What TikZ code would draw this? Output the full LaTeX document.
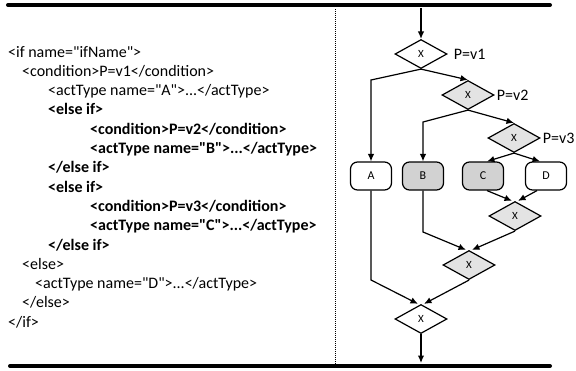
\documentclass[tikz,border=0pt]{standalone}
\usepackage{fontspec}
\setmainfont{Carlito}[Ligatures=TeXOff]
\usetikzlibrary{shapes.geometric,arrows.meta}
\begin{document}
\begin{tikzpicture}[x=1pt,y=-1pt,
  code/.style={anchor=base west,inner sep=0pt,font=\fontsize{16}{19}\selectfont},
  bcode/.style={anchor=base west,inner sep=0pt,font=\fontsize{16}{19}\selectfont\bfseries},
  gate/.style={diamond,draw,line width=1.2pt,minimum width=52pt,minimum height=29pt,inner sep=0pt,font=\fontsize{11}{13}\selectfont,fill=white},
  ggate/.style={gate,fill=gray!22},
  act/.style={rectangle,rounded corners=7pt,draw,line width=1.2pt,minimum width=41pt,minimum height=28pt,inner sep=0pt,font=\fontsize{12}{14}\selectfont,fill=white},
  gact/.style={act,fill=gray!35},
  flow/.style={line width=1.2pt,-{Latex[length=7.5pt,width=6.5pt]}},
  lbl/.style={anchor=west,inner sep=0pt,font=\fontsize{16}{19}\selectfont},
  thickrule/.style={line width=4pt,line cap=round},
  sep/.style={line width=0.9pt,dash pattern=on 1pt off 1pt}]
\useasboundingbox (0,0) rectangle (576,370);

% frame lines
\draw[thickrule] (8,5) -- (550,5);
\draw[thickrule] (10,366) -- (550,366);
\draw[sep] (335,9) -- (335,364);

% code listing
\node[code]  (l0)  at (8,57)     {<if name="ifName">};
\node[code]  (l1)  at (22,76.3)  {<condition>P=v1</condition>};
\node[code]  (l2)  at (48,95.6)  {<actType name="A">...</actType>};
\node[bcode] (l3)  at (48,114.9) {<else if>};
\node[bcode] (l4)  at (90,134.2) {<condition>P=v2</condition>};
\node[bcode] (l5)  at (90,153.5) {<actType name="B">...</actType>};
\node[bcode] (l6)  at (48,172.8) {</else if>};
\node[bcode] (l7)  at (48,192.1) {<else if>};
\node[bcode] (l8)  at (90,211.4) {<condition>P=v3</condition>};
\node[bcode] (l9)  at (90,230.7) {<actType name="C">...</actType>};
\node[bcode] (l10) at (48,250.0) {</else if>};
\node[code]  (l11) at (22,269.3) {<else>};
\node[code]  (l12) at (35,288.6) {<actType name="D">...</actType>};
\node[code]  (l13) at (22,307.9) {</else>};
\node[code]  (l14) at (8,327.2)  {</if>};

% flow diagram
\node[gate]  (D1) at (421,54)  {X};
\node[ggate] (D2) at (468,95)  {X};
\node[ggate] (D3) at (514,138) {X};
\node[lbl] (p1) at ([xshift=6pt]D1.east) {P=v1};
\node[lbl] (p2) at ([xshift=2pt]D2.east) {P=v2};
\node[lbl] (p3) at ([xshift=2pt]D3.east) {P=v3};

\node[act]  (A) at (371,176) {A};
\node[gact] (B) at (423,176) {B};
\node[gact] (C) at (483,176) {C};
\node[act]  (D) at (546,176) {D};

\node[ggate] (M3) at (515,216) {X};
\node[ggate] (M2) at (469,265) {X};
\node[gate]  (M1) at (421,319) {X};

\coordinate (top) at (421,8);
\coordinate (bot) at (421,363);

\draw[flow] (top) -- (D1.north);
\draw[flow] (D1.south) -- (A.north |- {(0,80)}) -- (A.north);
\draw[flow] (D1.south) -- (D2.north);
\draw[flow] (D2.south) -- (B.north |- {(0,122)}) -- (B.north);
\draw[flow] (D2.south) -- (D3.north);
\draw[flow] (D3.south) -- ([xshift=4pt]C.north);
\draw[flow] (D3.south) -- ([xshift=-6pt]D.north);
\draw[flow] ([xshift=4pt]C.south) -- ([xshift=-3pt]M3.north);
\draw[flow] ([xshift=-9pt]D.south) -- ([xshift=3pt]M3.north);
\draw[flow] (B.south) -- (B.south |- {(0,232)}) -- ([xshift=-3pt]M2.north);
\draw[flow] (M3.south) -- ([xshift=3pt]M2.north);
\draw[flow] (A.south) -- (A.south |- {(0,280)}) -- ([xshift=-3pt]M1.north);
\draw[flow] (M2.south) -- ([xshift=3pt]M1.north);
\draw[flow] (M1.south) -- (bot);
\end{tikzpicture}
\end{document}
